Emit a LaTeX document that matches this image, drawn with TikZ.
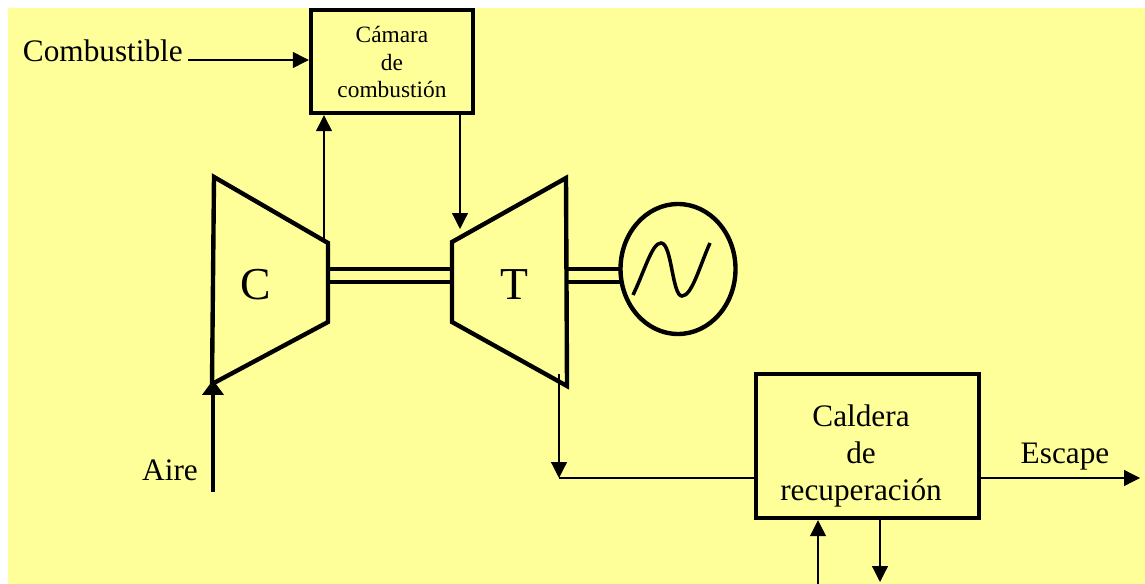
\documentclass[tikz,border=0pt]{standalone}
\usepackage{fontspec}
\usepackage{tikz}
\usetikzlibrary{arrows.meta,shapes.geometric}
\setmainfont{Liberation Serif}
\definecolor{paper}{RGB}{255,255,153}
\tikzset{
  heavy/.style = {line width = 2.5pt, line join = miter},
  flow/.style = {-{Triangle[length = 9pt, width = 9pt]}, line width = .7pt},
  thin flow/.style = {line width = .7pt},
  thick flow/.style = {-{Triangle[length = 8.5pt, width = 12pt]}, line width = 2.5pt},
  block/.style = {draw, heavy, inner sep = 0pt},
  small text/.style = {font = \fontsize{13.3}{15.9}\selectfont, align = center},
  big text/.style = {font = \fontsize{17.8}{21}\selectfont, align = center},
  huge text/.style = {font = \fontsize{26}{30}\selectfont}
}
\begin{document}
\begin{tikzpicture}[x = .02cm, y = -.02cm]
\useasboundingbox (0,0) rectangle (1145,584);
\fill [paper] (8,8) rectangle (1145,584);
% blocks
\node [block, minimum width = 162*.02cm, minimum height = 103*.02cm] (camara) at (392,61.5) {};
\node [block, minimum width = 223*.02cm, minimum height = 144*.02cm] (caldera) at (867.5,446) {};
\node [draw, heavy, ellipse, inner sep = 0pt, minimum width = 115*.02cm, minimum height = 130*.02cm] (gen) at (678,269) {};
\node [small text] (camara text) at (392,62) {Cámara\\de\\combustión};
\node [big text] (caldera text) at (861,456) {Caldera\\de\\recuperación};
% compressor and turbine
\draw [heavy] (214,177) -- (328,243) -- (328,322) -- (212,384) -- cycle;
\draw [heavy] (452,242) -- (566,178) -- (567,386) -- (452,322) -- cycle;
\node [huge text] (comp) at (256,285) {C};
\node [huge text] (turb) at (514,285) {T};
% shafts
\foreach \y in {269,282} {
  \coordinate (cs) at (328,\y);
  \coordinate (ts) at (452,\y);
  \coordinate (tg) at (566,\y);
  \coordinate (gs) at (622,\y);
  \draw [heavy] (cs) -- (ts);
  \draw [heavy] (tg) -- (gs);
}
\draw [heavy, line width = 2pt] (633,295) .. controls (645,270) and (652,243) .. (661,243)
  .. controls (672,243) and (672,296) .. (682,296) .. controls (692,296) and (700,265) .. (710,243);
% labels
\node [big text, anchor = east] (fuel) at (189,51) {Combustible};
\node [big text, anchor = east] (air) at (204,470) {Aire};
\node [big text] (esc) at (1065,457) {Escape};
% flows
\coordinate (fuel in) at (188,60);
\coordinate (c out) at (324,240);
\coordinate (t in) at (460,229);
\coordinate (t out) at (559,374);
\coordinate (gas) at (559,478);
\coordinate (esc out) at (1140,478);
\coordinate (air in) at (213,492);
\coordinate (c in) at (213,380);
\coordinate (water in) at (818,584);
\coordinate (steam) at (880,582);
\draw [flow] (fuel in) -- (fuel in -| camara.west);
\draw [flow] (c out) -- (c out |- camara.south);
\draw [flow] (t in |- camara.south) -- (t in);
\draw [flow] (t out) -- (gas);
\draw [thin flow] (gas) -- (gas -| caldera.west);
\draw [flow] (esc out -| caldera.east) -- (esc out);
\draw [flow] (water in) -- (water in |- caldera.south);
\draw [flow] (steam |- caldera.south) -- (steam);
\draw [thick flow] (air in) -- (c in);
\end{tikzpicture}
\end{document}
